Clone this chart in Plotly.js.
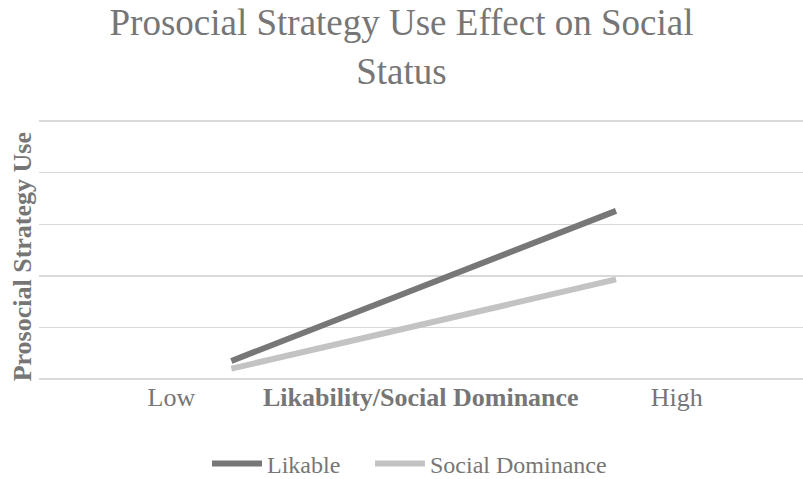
<!DOCTYPE html>
<html>
<head>
<meta charset="utf-8">
<script src="https://cdn.plot.ly/plotly-3.0.1.min.js"></script>
<style>html,body{margin:0;padding:0;background:#fff;}#chart{width:803px;height:479px;}</style>
</head>
<body>
<div id="chart"></div>
<script>
// Data
const seriesNames = ["Likable", "Social Dominance"];
const xPositions = [0.5, 1.5];          // Low-side point, High-side point
const likable = [0.35, 3.26];
const socialDominance = [0.20, 1.93];
const tickLabels = ["Low", "High"];
const tickPositions = [0.344, 1.658];

const textColor = "#767676";
const font = "Liberation Serif, Times New Roman, serif";

const traces = [
  {x: xPositions, y: likable, name: seriesNames[0], type: "scatter", mode: "lines",
   line: {color: "#777777", width: 6}, legend: "legend"},
  {x: xPositions, y: socialDominance, name: seriesNames[1], type: "scatter", mode: "lines",
   line: {color: "#c3c3c3", width: 6}, legend: "legend2"}
];

const legendBase = {
  orientation: "h", xref: "container", yref: "container",
  xanchor: "left", y: 1 - 464/479, yanchor: "middle",
  font: {family: font, size: 24, color: textColor},
  bgcolor: "rgba(0,0,0,0)", itemwidth: 50
};

const layout = {
  width: 803, height: 479,
  paper_bgcolor: "#ffffff", plot_bgcolor: "#ffffff",
  margin: {l: 39, r: 0, t: 118, b: 100, pad: 0},
  font: {family: font, color: textColor},
  title: {
    text: "Prosocial Strategy Use Effect on Social<br>Status",
    font: {family: font, size: 37, color: textColor},
    x: 0.5, xanchor: "center", xref: "container",
    y: 0.926, yanchor: "top", yref: "container"
  },
  xaxis: {
    range: [0, 1.986], showgrid: false, zeroline: false, showline: false,
    tickmode: "array", tickvals: tickPositions, ticktext: tickLabels,
    ticks: "", tickfont: {family: font, size: 26, color: textColor},
    fixedrange: true
  },
  yaxis: {
    range: [0, 5.06], dtick: 1, showgrid: true, gridcolor: "#d9d9d9", gridwidth: 1.5,
    zeroline: true, zerolinecolor: "#d9d9d9", zerolinewidth: 1.5,
    showticklabels: false, ticks: "", showline: false, fixedrange: true
  },
  annotations: [
    {text: "<b>Likability/Social Dominance</b>", xref: "paper", yref: "paper",
     x: 0.5, y: -0.07, xanchor: "center", yanchor: "middle", showarrow: false,
     font: {family: font, size: 26, color: textColor}},
    {text: "<b>Prosocial Strategy Use</b>", xref: "paper", yref: "paper",
     x: -0.0216, y: 0.468, xanchor: "center", yanchor: "middle", textangle: -90, showarrow: false,
     font: {family: font, size: 26, color: textColor}}
  ],
  showlegend: true,
  legend: Object.assign({}, legendBase, {x: 207/803}),
  legend2: Object.assign({}, legendBase, {x: 370/803})
};

Plotly.newPlot("chart", traces, layout, {displayModeBar: false, staticPlot: true});
</script>
</body>
</html>
